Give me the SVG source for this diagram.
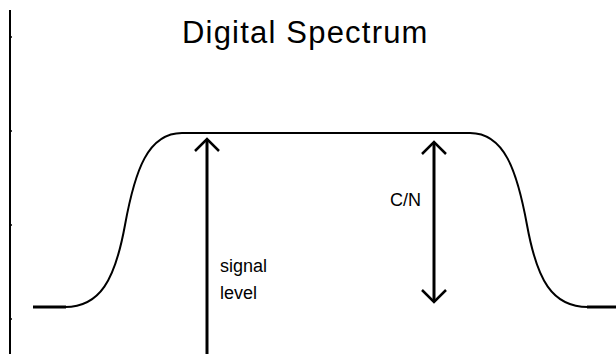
<svg xmlns="http://www.w3.org/2000/svg" width="616" height="354" viewBox="0 0 616 354">
  <style>
    .txt { font-family: "Liberation Sans", Arial, sans-serif; fill: #000; }
    .title { font-size: 31px; letter-spacing: 1.2px; }
    .lbl { font-size: 18px; }
    .curve { fill: none; stroke: #000; stroke-width: 2; }
    .arrow { fill: none; stroke: #000; stroke-width: 3; }
    .axis { fill: none; stroke: #000; stroke-width: 2; }
  </style>
  <defs>
    <marker id="v" markerUnits="userSpaceOnUse" markerWidth="30" markerHeight="30" viewBox="-15 -15 30 30" refX="0" refY="0" orient="auto-start-reverse">
      <path d="M-12,-12 L0,0 L-12,12" fill="none" stroke="#000" stroke-width="2.5"/>
    </marker>
  </defs>
  <rect width="616" height="354" fill="#fff"/>
  <g id="axis">
    <line class="axis" x1="10" y1="10" x2="10" y2="354"/>
    <path d="M10,37 h2 M10,131 h2 M10,225 h2 M10,319 h2" stroke="#000" stroke-width="1.5"/>
  </g>
  <g id="title">
    <text class="txt title" x="182" y="43">Digital Spectrum</text>
  </g>
  <g id="spectrum">
    <path class="curve" d="M65,307 C100,307 115,280 125,225 C135,170 148,133 182,133 L470,133 C504,133 517,170 527,225 C537,280 552,307 588,307"/>
    <line x1="33" y1="307" x2="66" y2="307" stroke="#000" stroke-width="3"/>
    <line x1="587" y1="307" x2="616" y2="307" stroke="#000" stroke-width="3"/>
  </g>
  <g id="connectors">
    <line id="signal-arrow" class="arrow" x1="207" y1="354" x2="207" y2="139" marker-end="url(#v)"/>
    <line id="cn-arrow" class="arrow" x1="434" y1="142" x2="434" y2="302" marker-start="url(#v)" marker-end="url(#v)"/>
  </g>
  <g id="label-signal">
    <text class="txt lbl" x="220" y="272">signal</text>
    <text class="txt lbl" x="220" y="299">level</text>
  </g>
  <g id="label-cn">
    <text class="txt lbl" x="390" y="206">C/N</text>
  </g>
</svg>
